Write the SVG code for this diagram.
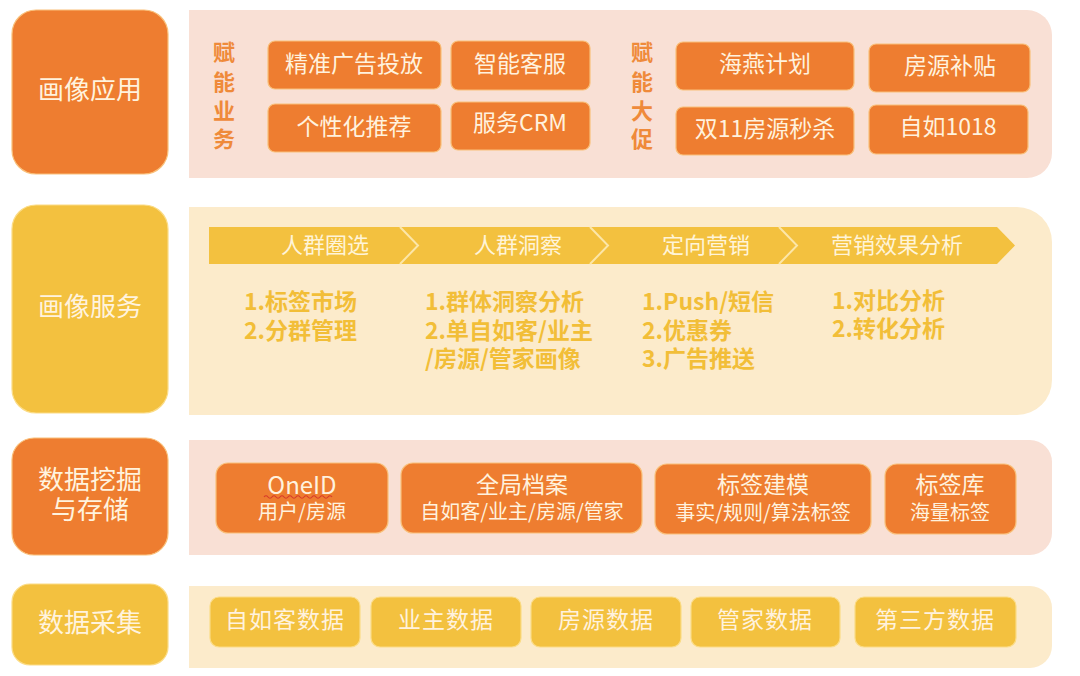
<svg xmlns="http://www.w3.org/2000/svg" width="1080" height="676" viewBox="0 0 1080 676">
<style>
text{font-family:"Noto Sans CJK SC","Liberation Sans",sans-serif;dominant-baseline:central}
.side{fill:#FFF3DE;font-size:26px;text-anchor:middle}
.orange{fill:#EE7D30;stroke:#F9C07A;stroke-width:1.2}
.yellow{fill:#F3C13F;stroke:#FBDC86;stroke-width:1.2}
.pink{fill:#F9E0D5}
.cream{fill:#FCEBCB}
.btn{fill:#FFF2DE;font-size:23px;text-anchor:middle}
.vert{fill:#EF8A3A;font-size:22px;font-weight:bold;text-anchor:middle}
.stage{fill:#FFF4D8;font-size:22px;text-anchor:middle}
.item{fill:#F2BE38;font-size:23px;font-weight:bold}
.t{fill:#FFF2DE;font-size:23px;text-anchor:middle}
.s{fill:#FFF2DE;font-size:20px;text-anchor:middle}
.sep{fill:none;stroke:#FCE6A8;stroke-width:2}
</style>
<rect width="1080" height="676" fill="#FFFFFF"/>

<!-- Row 1 -->
<g id="row1-label">
<rect class="orange" x="12" y="10" width="156" height="164" rx="24"/>
<text class="side" x="90" y="87">画像应用</text>
</g>
<g id="row1-panel">
<path class="pink" d="M189,10 H1027 A25,25 0 0 1 1052,35 V153 A25,25 0 0 1 1027,178 H189 Z"/>
<text class="vert" x="224" y="50">赋</text>
<text class="vert" x="224" y="80">能</text>
<text class="vert" x="224" y="109">业</text>
<text class="vert" x="224" y="137">务</text>
<text class="vert" x="642" y="50">赋</text>
<text class="vert" x="642" y="80">能</text>
<text class="vert" x="642" y="109">大</text>
<text class="vert" x="642" y="137">促</text>
</g>
<g id="n-jingzhun"><rect class="orange" x="268" y="41" width="173" height="48" rx="7"/><text class="btn" x="354" y="62">精准广告投放</text></g>
<g id="n-gexinghua"><rect class="orange" x="268" y="104" width="173" height="48" rx="7"/><text class="btn" x="354" y="125">个性化推荐</text></g>
<g id="n-zhineng"><rect class="orange" x="451" y="41" width="139" height="49" rx="7"/><text class="btn" x="520" y="62">智能客服</text></g>
<g id="n-crm"><rect class="orange" x="451" y="102" width="139" height="48" rx="7"/><text class="btn" x="520" y="121">服务CRM</text></g>
<g id="n-haiyan"><rect class="orange" x="676" y="42" width="178" height="48" rx="7"/><text class="btn" x="765" y="62">海燕计划</text></g>
<g id="n-miaosha"><rect class="orange" x="676" y="107" width="178" height="48" rx="7"/><text class="btn" x="765" y="127">双11房源秒杀</text></g>
<g id="n-butie"><rect class="orange" x="869" y="44" width="161" height="48" rx="7"/><text class="btn" x="950" y="64">房源补贴</text></g>
<g id="n-1018"><rect class="orange" x="869" y="105" width="159" height="49" rx="7"/><text class="btn" x="948" y="125">自如1018</text></g>

<!-- Row 2 -->
<g id="row2-label">
<rect class="yellow" x="12" y="205" width="156" height="208" rx="24"/>
<text class="side" x="90" y="304">画像服务</text>
</g>
<g id="row2-panel">
<path class="cream" d="M189,207 H1017 A35,35 0 0 1 1052,242 V380 A35,35 0 0 1 1017,415 H189 Z"/>
</g>
<g id="row2-flow">
<path fill="#F3C13F" d="M209,227 H997 L1015,245.5 L997,264 H209 Z"/>
<polyline class="sep" points="400,227 418,245.5 400,264"/>
<polyline class="sep" points="590,227 608,245.5 590,264"/>
<polyline class="sep" points="779,227 797,245.5 779,264"/>
<text class="stage" x="325" y="243">人群圈选</text>
<text class="stage" x="518" y="243">人群洞察</text>
<text class="stage" x="706" y="243">定向营销</text>
<text class="stage" x="897" y="243">营销效果分析</text>
</g>
<g id="n-quanxuan-items">
<text class="item" x="244" y="300">1.标签市场</text>
<text class="item" x="244" y="329">2.分群管理</text>
</g>
<g id="n-dongcha-items">
<text class="item" x="425" y="300">1.群体洞察分析</text>
<text class="item" x="425" y="329">2.单自如客/业主</text>
<text class="item" x="425" y="357">/房源/管家画像</text>
</g>
<g id="n-yingxiao-items">
<text class="item" x="642" y="300">1.Push/短信</text>
<text class="item" x="642" y="329">2.优惠券</text>
<text class="item" x="642" y="357">3.广告推送</text>
</g>
<g id="n-xiaoguo-items">
<text class="item" x="832" y="299">1.对比分析</text>
<text class="item" x="832" y="327">2.转化分析</text>
</g>

<!-- Row 3 -->
<g id="row3-label">
<rect class="orange" x="12" y="438" width="156" height="117" rx="22"/>
<text class="side" x="90" y="477">数据挖掘</text>
<text class="side" x="90" y="507">与存储</text>
</g>
<g id="row3-panel">
<path class="pink" d="M189,440 H1030 A22,22 0 0 1 1052,462 V533 A22,22 0 0 1 1030,555 H189 Z"/>
</g>
<g id="n-oneid">
<rect class="orange" x="216" y="463" width="172" height="70" rx="12"/>
<text class="t" x="302" y="483" style="font-size:24px">OneID</text>
<path d="M264,497 q2,-2.5 4,0 t4,0 t4,0 t4,0 t4,0 t4,0 t4,0 t4,0 t4,0 t4,0 t4,0 t4,0 t4,0 t4,0 t4,0 t4,0 t4,0" fill="none" stroke="#D83A2A" stroke-width="1.2"/>
<text class="s" x="302" y="510">用户/房源</text>
</g>
<g id="n-dangan">
<rect class="orange" x="401" y="463" width="241" height="70" rx="12"/>
<text class="t" x="522" y="483">全局档案</text>
<text class="s" x="522" y="510">自如客/业主/房源/管家</text>
</g>
<g id="n-jianmo">
<rect class="orange" x="655" y="464" width="216" height="70" rx="12"/>
<text class="t" x="763" y="483">标签建模</text>
<text class="s" x="763" y="511">事实/规则/算法标签</text>
</g>
<g id="n-biaoqianku">
<rect class="orange" x="885" y="464" width="131" height="70" rx="12"/>
<text class="t" x="950" y="483">标签库</text>
<text class="s" x="950" y="511">海量标签</text>
</g>

<!-- Row 4 -->
<g id="row4-label">
<rect class="yellow" x="12" y="584" width="156" height="81" rx="18"/>
<text class="side" x="90" y="620">数据采集</text>
</g>
<g id="row4-panel">
<path class="cream" d="M189,586 H1030 A22,22 0 0 1 1052,608 V646 A22,22 0 0 1 1030,668 H189 Z"/>
</g>
<g id="n-ziruke"><rect class="yellow" x="210" y="597" width="150" height="50" rx="9"/><text class="btn" x="285" y="618" style="letter-spacing:1px">自如客数据</text></g>
<g id="n-yezhu"><rect class="yellow" x="371" y="597" width="150" height="50" rx="9"/><text class="btn" x="446" y="618" style="letter-spacing:1px">业主数据</text></g>
<g id="n-fangyuan"><rect class="yellow" x="531" y="597" width="150" height="50" rx="9"/><text class="btn" x="606" y="618" style="letter-spacing:1px">房源数据</text></g>
<g id="n-guanjia"><rect class="yellow" x="691" y="597" width="149" height="50" rx="9"/><text class="btn" x="765" y="618" style="letter-spacing:1px">管家数据</text></g>
<g id="n-disanfang"><rect class="yellow" x="855" y="597" width="161" height="50" rx="9"/><text class="btn" x="935" y="618" style="letter-spacing:1px">第三方数据</text></g>

<g id="connectors"></g>
</svg>
